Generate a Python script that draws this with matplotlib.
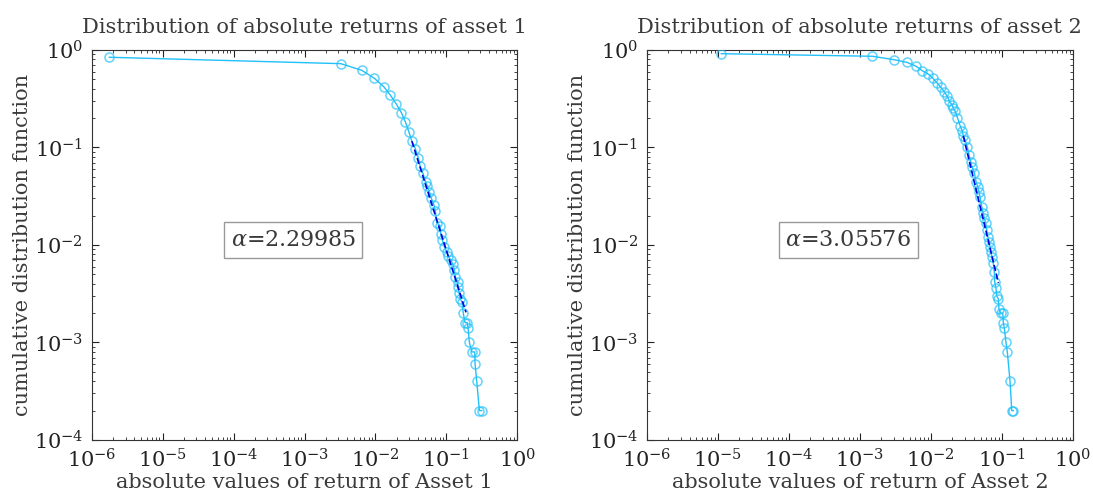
import numpy as np
import matplotlib
matplotlib.use('Agg')
import matplotlib.pyplot as plt

x1 = [1.77e-6, 3.24e-3, 6.41e-3, 9.64e-3, 1.31e-2, 1.62e-2, 1.97e-2, 2.32e-2,
      2.65e-2, 2.97e-2, 3.26e-2, 3.65e-2, 4.01e-2, 4.26e-2, 4.65e-2, 5.08e-2,
      5.38e-2, 5.75e-2, 6.14e-2, 6.70e-2, 6.98e-2, 7.31e-2, 8.13e-2, 8.32e-2,
      8.77e-2, 9.35e-2, 0.101, 0.1065, 0.115, 0.123, 0.1295, 0.1337,
      0.1445, 0.146, 0.151, 0.156, 0.166, 0.173, 0.183, 0.197,
      0.202, 0.211, 0.228, 0.251, 0.254, 0.268, 0.292, 0.315]
y1 = [0.842, 0.724, 0.619, 0.513, 0.420, 0.345, 0.279, 0.2275,
      0.1817, 0.1435, 0.116, 0.0972, 0.0789, 0.0646, 0.0548, 0.0446,
      0.0403, 0.0352, 0.0301, 0.0255, 0.0225, 0.0169, 0.0158, 0.0129,
      0.01125, 0.0096, 0.0085, 0.0077, 0.0070, 0.0064, 0.0056, 0.0047,
      0.0042, 0.0037, 0.0032, 0.0028, 0.0026, 0.0020, 0.0016, 0.0016,
      0.0014, 0.0010, 0.0008, 0.0008, 0.0006, 0.0004, 0.0002, 0.0002]

x2 = [1.12e-5, 1.50e-3, 3.03e-3, 4.56e-3, 6.11e-3, 7.57e-3, 9.02e-3, 1.06e-2,
      1.21e-2, 1.37e-2, 1.55e-2, 1.69e-2, 1.82e-2, 2.00e-2, 2.07e-2, 2.20e-2,
      2.36e-2, 2.57e-2, 2.77e-2, 2.86e-2, 3.05e-2, 3.27e-2, 3.44e-2, 3.63e-2,
      3.78e-2, 4.08e-2, 4.32e-2, 4.56e-2, 4.75e-2, 4.91e-2, 5.19e-2, 5.46e-2,
      5.65e-2, 5.90e-2, 6.10e-2, 6.30e-2, 6.64e-2, 6.79e-2, 6.95e-2, 7.24e-2,
      7.55e-2, 7.80e-2, 7.91e-2, 8.24e-2, 8.43e-2, 8.89e-2, 9.08e-2, 9.59e-2,
      0.1026, 0.1045, 0.108, 0.114, 0.119, 0.130, 0.1374, 0.1445]
y2 = [0.916, 0.862, 0.795, 0.748, 0.685, 0.613, 0.571, 0.516,
      0.462, 0.417, 0.371, 0.337, 0.298, 0.271, 0.252, 0.234,
      0.203, 0.168, 0.147, 0.131, 0.118, 0.100, 0.0838, 0.0715,
      0.0635, 0.0552, 0.0446, 0.0396, 0.0352, 0.0313, 0.0247, 0.0211,
      0.0188, 0.0167, 0.01426, 0.01217, 0.0108, 0.0096, 0.00853, 0.00759,
      0.00649, 0.00532, 0.0042, 0.0036, 0.0030, 0.0028, 0.0022, 0.0020,
      0.0020, 0.0016, 0.0014, 0.0010, 0.0008, 0.0004, 0.0002, 0.0002]

# power-law fits: exponent, prefactor, fitted x range
alpha1, C1, fit_range1 = 2.29985, 4.42e-5, (0.0326, 0.189)
alpha2, C2, fit_range2 = 3.05576, 2.514e-6, (0.0286, 0.089)

text_c = '#3a3a3a'
plt.rcParams['font.family'] = ['DejaVu Serif']
plt.rcParams['mathtext.fontset'] = 'dejavuserif'

fig = plt.figure(figsize=(10.93, 4.91), dpi=100)
axes = [fig.add_axes([0.0839, 0.1039, 0.3894, 0.7943]),
        fig.add_axes([0.5917, 0.1039, 0.3900, 0.7943])]

panels = [(x1, y1, alpha1, C1, fit_range1, 1),
          (x2, y2, alpha2, C2, fit_range2, 2)]

for ax, (xs, ys, a, C, fr, k) in zip(axes, panels):
    ax.loglog(xs, ys, '-', color='#22c0fa', lw=1.0, zorder=2)
    ax.loglog(xs, ys, 'o', mfc='none', mec='#22c0fa', mew=1.1, ms=6.5,
              alpha=0.7, zorder=3)
    xf = np.logspace(np.log10(fr[0]), np.log10(fr[1]), 30)
    ax.loglog(xf, C * xf ** (-a), '--', color='#0000dd', lw=1.2, zorder=4)
    ax.set_xlim(1e-6, 1)
    ax.set_ylim(1e-4, 1)
    ax.tick_params(which='both', direction='in', top=True, right=True,
                   labelsize=15, colors='#222222', pad=6)
    ax.tick_params(which='major', length=5)
    ax.tick_params(which='minor', length=2.5)
    for s in ax.spines.values():
        s.set_color('#333333')
    ax.set_title('Distribution of absolute returns of asset %d' % k,
                 fontsize=15, color=text_c, pad=12)
    ax.set_xlabel('absolute values of return of Asset %d' % k,
                  fontsize=15, color=text_c, labelpad=1)
    ax.set_ylabel('cumulative distribution function', fontsize=15,
                  color=text_c, labelpad=1)
    ax.text(0.473, 0.513, r'$\alpha$=%.5f' % a,
            transform=ax.transAxes, ha='center', va='center',
            fontsize=16, color=text_c,
            bbox=dict(boxstyle='square,pad=0.3', fc='white', ec='#999999'))

fig.savefig('out.png', dpi=100)
